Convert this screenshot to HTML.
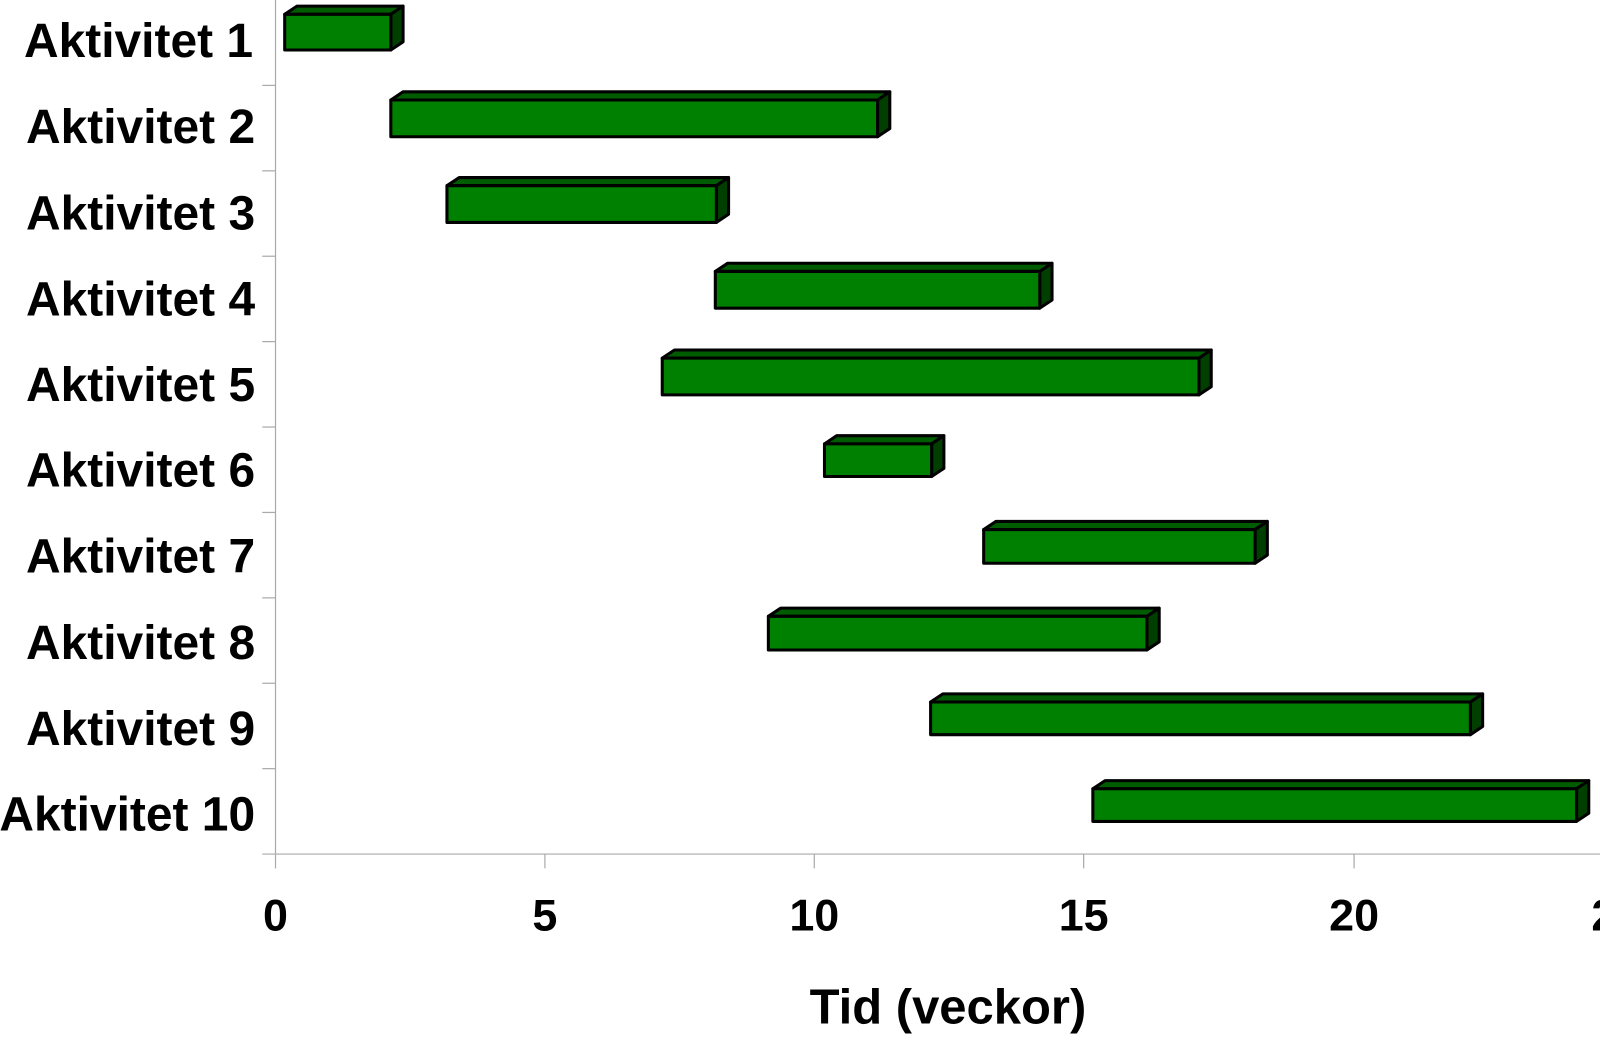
<!DOCTYPE html>
<html><head><meta charset="utf-8"><style>html,body{margin:0;padding:0;background:#fff;overflow:hidden}</style></head>
<body>
<svg width="1600" height="1036" viewBox="0 0 1568 1015.3" xmlns="http://www.w3.org/2000/svg" font-family="Liberation Sans, Arial, sans-serif" font-weight="bold">
<g stroke="#aaa" stroke-width="1.2">
<line x1="270" y1="0" x2="270" y2="851"/>
<line x1="257" y1="837" x2="1568" y2="837"/>
<line x1="257" y1="83.7" x2="270" y2="83.7"/>
<line x1="257" y1="167.4" x2="270" y2="167.4"/>
<line x1="257" y1="251.1" x2="270" y2="251.1"/>
<line x1="257" y1="334.8" x2="270" y2="334.8"/>
<line x1="257" y1="418.5" x2="270" y2="418.5"/>
<line x1="257" y1="502.2" x2="270" y2="502.2"/>
<line x1="257" y1="585.9" x2="270" y2="585.9"/>
<line x1="257" y1="669.6" x2="270" y2="669.6"/>
<line x1="257" y1="753.3" x2="270" y2="753.3"/>
<line x1="534" y1="837" x2="534" y2="851"/>
<line x1="798" y1="837" x2="798" y2="851"/>
<line x1="1062" y1="837" x2="1062" y2="851"/>
<line x1="1327" y1="837" x2="1327" y2="851"/>
</g>
<g font-size="47" text-anchor="end" fill="#000">
<text x="248" y="56">Aktivitet 1</text>
<text x="250" y="140">Aktivitet 2</text>
<text x="250" y="225">Aktivitet 3</text>
<text x="250" y="309">Aktivitet 4</text>
<text x="250" y="393">Aktivitet 5</text>
<text x="250" y="477">Aktivitet 6</text>
<text x="250" y="561">Aktivitet 7</text>
<text x="250" y="646">Aktivitet 8</text>
<text x="250" y="730">Aktivitet 9</text>
<text x="250" y="814">Aktivitet 10</text>
</g>
<g font-size="44" text-anchor="middle" fill="#000">
<text x="270" y="912">0</text>
<text x="534" y="912">5</text>
<text x="798" y="912">10</text>
<text x="1062" y="912">15</text>
<text x="1327" y="912">20</text>
<text x="1584" y="912">25</text>
<text x="929" y="1003" font-size="48">Tid (veckor)</text>
</g>
<g stroke="#000" stroke-width="3" stroke-linejoin="round">
<polygon fill="#005c00" points="279,14 291,6 395,6 383,14"/><polygon fill="#003f00" points="383,14 395,6 395,41 383,49"/><rect fill="#008000" x="279" y="14" width="104" height="35"/>
<polygon fill="#005c00" points="383,98 395,90 872,90 860,98"/><polygon fill="#003f00" points="860,98 872,90 872,126 860,134"/><rect fill="#008000" x="383" y="98" width="477" height="36"/>
<polygon fill="#005c00" points="438,182 450,174 714,174 702,182"/><polygon fill="#003f00" points="702,182 714,174 714,210 702,218"/><rect fill="#008000" x="438" y="182" width="264" height="36"/>
<polygon fill="#005c00" points="701,266 713,258 1031,258 1019,266"/><polygon fill="#003f00" points="1019,266 1031,258 1031,294 1019,302"/><rect fill="#008000" x="701" y="266" width="318" height="36"/>
<polygon fill="#005c00" points="649,351 661,343 1187,343 1175,351"/><polygon fill="#003f00" points="1175,351 1187,343 1187,379 1175,387"/><rect fill="#008000" x="649" y="351" width="526" height="36"/>
<polygon fill="#005c00" points="808,435 820,427 925,427 913,435"/><polygon fill="#003f00" points="913,435 925,427 925,459 913,467"/><rect fill="#008000" x="808" y="435" width="105" height="32"/>
<polygon fill="#005c00" points="964,519 976,511 1242,511 1230,519"/><polygon fill="#003f00" points="1230,519 1242,511 1242,544 1230,552"/><rect fill="#008000" x="964" y="519" width="266" height="33"/>
<polygon fill="#005c00" points="753,604 765,596 1136,596 1124,604"/><polygon fill="#003f00" points="1124,604 1136,596 1136,629 1124,637"/><rect fill="#008000" x="753" y="604" width="371" height="33"/>
<polygon fill="#005c00" points="912,688 924,680 1453,680 1441,688"/><polygon fill="#003f00" points="1441,688 1453,680 1453,712 1441,720"/><rect fill="#008000" x="912" y="688" width="529" height="32"/>
<polygon fill="#005c00" points="1071,773 1083,765 1557,765 1545,773"/><polygon fill="#003f00" points="1545,773 1557,765 1557,797 1545,805"/><rect fill="#008000" x="1071" y="773" width="474" height="32"/>
</g>
</svg>
</body></html>
